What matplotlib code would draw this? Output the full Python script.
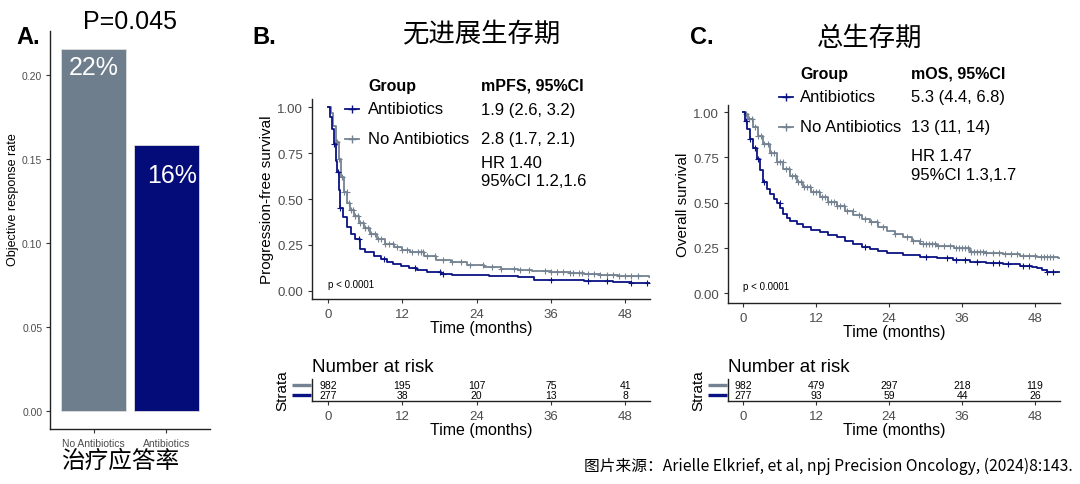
import numpy as np
import matplotlib
matplotlib.use("Agg")
import matplotlib.pyplot as plt
from matplotlib.lines import Line2D

plt.rcParams['font.family'] = ['Liberation Sans', 'Noto Sans CJK SC', 'DejaVu Sans']

NAVY = '#0a1283'
GREY = '#748291'
BAR_GREY = '#6f7e8d'
BAR_NAVY = '#030c78'
TICK_GREY = '#4d4d4d'

# ---- panel A data
orr_groups = ['No Antibiotics', 'Antibiotics']
orr_values = [0.2155, 0.158]
orr_labels = ['22%', '16%']

# ---- PFS curves
pfs_abx_t = [0, 0.3, 0.6, 0.9, 1.2, 1.4, 1.7, 2.0, 2.4, 3.0, 3.7, 4.3, 5.2, 6.0, 7.4, 8.5,
             9.5, 10.5, 11.7, 13.0, 14.4, 16.0, 18.2, 20.0, 22.5, 26.0, 30.6, 33.3, 37.0,
             41.4, 46.0, 49.0, 51.6, 52.0]
pfs_abx_s = [1.0, 0.95, 0.88, 0.80, 0.71, 0.65, 0.55, 0.45, 0.40, 0.35, 0.31, 0.28, 0.23,
             0.21, 0.19, 0.175, 0.155, 0.145, 0.136, 0.125, 0.115, 0.105, 0.09, 0.087, 0.085,
             0.08, 0.073, 0.06, 0.058, 0.055, 0.05, 0.045, 0.042, 0.042]
pfs_noabx_t = [0, 0.4, 0.8, 1.2, 1.7, 2.1, 2.5, 3.1, 3.6, 4.2, 5.0, 5.8, 6.8, 7.9, 9.2, 10.6,
               12.0, 13.3, 15.5, 17.5, 19.8, 22.5, 25.2, 28.0, 30.6, 33.0, 36.0, 39.0, 41.4,
               44.0, 46.8, 49.5, 51.9, 52.0]
pfs_noabx_s = [1.0, 0.97, 0.90, 0.81, 0.72, 0.62, 0.54, 0.48, 0.44, 0.41, 0.37, 0.34, 0.31,
               0.28, 0.255, 0.236, 0.22, 0.21, 0.187, 0.17, 0.155, 0.14, 0.127, 0.12, 0.115,
               0.108, 0.10, 0.095, 0.09, 0.086, 0.082, 0.078, 0.073, 0.073]
pfs_abx_cens = [1.0, 1.6, 2.0, 5.0, 9.0, 14.0, 18.0, 18.5, 36.0, 42.0, 45.0, 49.0, 51.5]
pfs_noabx_cens = [1.2, 1.5, 1.8, 2.2, 2.6, 3.0, 3.3, 3.7, 4.0, 4.4, 4.8, 5.2, 5.6, 6.0, 6.5,
                  7.0, 7.5, 8.0, 8.6, 9.2, 9.8, 10.5, 11.2, 12.0, 12.8, 13.6, 14.5, 15.0,
                  15.4, 16.0, 17.2, 18.5, 20.0, 21.5, 23.0, 25.0, 26.5, 28.0, 30.0, 31.0,
                  32.5, 35.0, 36.0, 37.0, 38.0, 39.0, 39.5, 40.5, 41.0, 42.0, 43.0, 44.0,
                  45.0, 46.0, 47.0, 48.0, 49.0, 50.0]

# ---- OS curves
os_abx_t = [0, 0.27, 0.6, 1.1, 1.6, 2.2, 2.8, 3.3, 3.9, 4.4, 5.0, 5.5, 6.1, 6.6, 7.2, 7.7,
            8.8, 9.9, 11.2, 12.6, 14.0, 15.4, 16.8, 18.1, 19.5, 20.8, 22.2, 23.6, 26.3, 29.0,
            31.8, 34.5, 37.3, 40.0, 42.8, 45.5, 47.5, 48.3, 49.2, 49.9, 52.0]
os_abx_s = [1.0, 0.954, 0.91, 0.853, 0.80, 0.742, 0.68, 0.613, 0.575, 0.549, 0.52, 0.50,
            0.47, 0.438, 0.415, 0.40, 0.38, 0.365, 0.35, 0.337, 0.323, 0.31, 0.29, 0.273,
            0.258, 0.245, 0.232, 0.223, 0.212, 0.202, 0.193, 0.184, 0.175, 0.168, 0.162,
            0.153, 0.145, 0.138, 0.13, 0.12, 0.12]
os_noabx_t = [0, 0.27, 0.8, 1.6, 2.4, 3.3, 4.4, 5.5, 6.6, 7.7, 8.8, 9.9, 11.2, 12.6, 14.0,
              15.4, 16.8, 18.1, 19.5, 20.8, 22.2, 23.6, 25.0, 26.3, 27.7, 29.1, 31.8, 34.6,
              37.3, 40.0, 42.8, 45.5, 48.3, 51.8, 52.0]
os_noabx_s = [1.0, 0.99, 0.96, 0.917, 0.87, 0.825, 0.775, 0.724, 0.685, 0.65, 0.617, 0.586,
              0.557, 0.53, 0.505, 0.484, 0.457, 0.43, 0.41, 0.392, 0.368, 0.346, 0.328, 0.31,
              0.29, 0.273, 0.26, 0.249, 0.23, 0.222, 0.217, 0.207, 0.199, 0.193, 0.193]
os_abx_cens = [0.5, 1.2, 2.0, 2.5, 3.5, 6.0, 20.0, 30.0, 33.5, 35.0, 36.5, 38.5, 41.0, 42.0,
               43.5, 46.0, 47.0, 50.0, 51.0]
os_noabx_cens = [0.4, 1.0, 1.5, 2.0, 2.5, 3.0, 3.5, 4.0, 4.5, 5.0, 5.5, 6.0, 6.5, 7.0, 7.5,
                 8.0, 8.5, 9.0, 9.5, 10.0, 10.5, 11.0, 11.5, 12.0, 12.5, 13.0, 13.5, 14.0,
                 14.5, 15.0, 15.5, 16.0, 16.5, 17.0, 18.0, 19.0, 20.0, 21.0, 22.0, 23.0, 25.0,
                 27.0, 28.0, 29.0, 29.5, 30.0, 30.5, 31.0, 31.5, 32.0, 33.0, 34.0, 35.0, 35.5,
                 36.0, 36.5, 37.0, 37.5, 38.0, 38.5, 39.0, 39.5, 40.0, 41.0, 42.0, 43.0, 44.0,
                 45.0, 46.0, 47.0, 48.0, 49.0, 49.5, 50.0, 50.5, 51.0]

# ---- number at risk
risk_times = [0, 12, 24, 36, 48]
pfs_risk_noabx = [982, 195, 107, 75, 41]
pfs_risk_abx = [277, 38, 20, 13, 8]
os_risk_noabx = [982, 479, 297, 218, 119]
os_risk_abx = [277, 93, 59, 44, 26]

W, H = 1080, 485
fig = plt.figure(figsize=(W / 100, H / 100), dpi=100)


def px(x, y):
    return x / W, 1 - y / H


def ftext(x, y, s, **kw):
    fig.text(*px(x, y), s, **kw)


def step_at(t, s, x):
    idx = np.searchsorted(np.asarray(t), x, side='right') - 1
    return np.asarray(s)[idx]


def axes_px(l, t, r, b):
    return fig.add_axes([l / W, 1 - b / H, (r - l) / W, (b - t) / H])


def style_axes(ax):
    for sp in ['top', 'right']:
        ax.spines[sp].set_visible(False)
    for sp in ['left', 'bottom']:
        ax.spines[sp].set_linewidth(1.0)
        ax.spines[sp].set_color('#222222')
    ax.tick_params(colors='#333333', labelcolor=TICK_GREY, length=3, width=0.8)


# ================= Panel A
axA = axes_px(50, 32, 210, 430)
style_axes(axA)
xs = np.arange(len(orr_groups))
axA.bar(xs, orr_values, width=0.9, color=[BAR_GREY, BAR_NAVY], edgecolor='#dddddd',
        linewidth=0.6)
label_offsets = [-13, -21]
for x, v, lab, off in zip(xs, orr_values, orr_labels, label_offsets):
    axA.annotate(lab, (x + 0.08 * x, v), xytext=(0, off), textcoords='offset points',
                 ha='center', va='center', color='white', fontsize=18)
axA.set_xlim(-0.6, 1.6)
axA.set_ylim(-0.0107, 0.226)
axA.set_yticks([0, 0.05, 0.10, 0.15, 0.20])
axA.set_yticklabels(['0.00', '0.05', '0.10', '0.15', '0.20'], fontsize=7.5)
axA.tick_params(axis='y', pad=2.5)
axA.set_xticks(xs)
axA.set_xticklabels(orr_groups, fontsize=7.5)
axA.set_ylabel('Objective response rate', fontsize=9, va='center')
axA.yaxis.set_label_coords((13 - 50) / 160, 0.58)
ftext(130, 22, 'P=0.045', fontsize=18, ha='center', va='center')
ftext(16, 38, 'A.', fontsize=17, fontweight='bold', ha='left', va='center')
ftext(120, 462, '治疗应答率', fontsize=17, ha='center', va='center')


# ================= KM panels
def km_panel(box, risk_box, curves, ylab, xlim, ylim, risk_rows):
    ax = axes_px(*box)
    style_axes(ax)
    for t, s, cens, col in curves:
        ax.step(t, s, where='post', color=col, lw=1.3)
        ax.plot(cens, step_at(t, s, cens), '+', color=col, ms=4, mew=0.8, ls='none')
    ax.set_xlim(*xlim)
    ax.set_ylim(*ylim)
    ax.set_xticks(risk_times)
    ax.set_yticks([0, 0.25, 0.5, 0.75, 1.0])
    ax.set_yticklabels(['0.00', '0.25', '0.50', '0.75', '1.00'], fontsize=9.5)
    ax.tick_params(axis='x', labelsize=9.5)
    ax.set_xlabel('Time (months)', fontsize=11.5, labelpad=0)
    ax.set_ylabel(ylab, fontsize=11, labelpad=2)
    ax.text(0, 0.01, 'p < 0.0001', fontsize=7, ha='left', va='bottom')

    rk = axes_px(*risk_box)
    style_axes(rk)
    rk.set_xlim(*xlim)
    rk.set_ylim(-0.6, 1.6)
    rk.set_yticks([])
    rk.set_xticks(risk_times)
    rk.tick_params(axis='x', labelsize=9.5)
    for row, (vals, col) in enumerate(risk_rows):
        for x, v in zip(risk_times, vals):
            rk.text(x, row, str(v), fontsize=7.5, ha='center', va='center')
        rk.plot([-0.06, -0.002], [row, row], color=col, lw=2.4, transform=rk.get_yaxis_transform(),
                clip_on=False, solid_capstyle='butt')
    rk.set_xlabel('Time (months)', fontsize=11.5, labelpad=0)
    rk.set_ylabel('Strata', fontsize=11, labelpad=16)
    rk.set_title('Number at risk', fontsize=13.5, loc='left', pad=6)
    return ax


km_panel((312, 100, 650, 300), (312, 380, 650, 402),
         [(pfs_noabx_t, pfs_noabx_s, pfs_noabx_cens, GREY),
          (pfs_abx_t, pfs_abx_s, pfs_abx_cens, NAVY)],
         'Progression-free survival', (-2.6, 52), (-0.045, 1.046),
         [(pfs_risk_abx, NAVY), (pfs_risk_noabx, GREY)])

km_panel((728, 106, 1060, 304), (728, 380, 1060, 402),
         [(os_noabx_t, os_noabx_s, os_noabx_cens, GREY),
          (os_abx_t, os_abx_s, os_abx_cens, NAVY)],
         'Overall survival', (-2.5, 52.1), (-0.054, 1.04),
         [(os_risk_abx, NAVY), (os_risk_noabx, GREY)])


def legend_block(x_key, x_grp, x_val, y_head, y1, y2, y_hr, head, vals, hr):
    ftext(x_grp, y_head, 'Group', fontsize=11.5, fontweight='bold', va='center')
    ftext(x_val, y_head, head, fontsize=11.5, fontweight='bold', va='center')
    for y, name, v, col in [(y1, 'Antibiotics', vals[0], NAVY), (y2, 'No Antibiotics', vals[1], GREY)]:
        x0, yy = px(x_key - 7, y)
        x1, _ = px(x_key + 7, y)
        fig.add_artist(Line2D([x0, x1], [yy, yy], color=col, lw=1.3))
        fig.add_artist(Line2D([(x0 + x1) / 2], [yy], marker='+', color=col, ms=6, mew=1.0))
        ftext(x_grp, y, name, fontsize=12, va='center')
        ftext(x_val, y, v, fontsize=12, va='center')
    for k, line in enumerate(hr):
        ftext(x_val, y_hr + 18 * k, line, fontsize=12, va='center')


legend_block(352, 368, 481, 86, 110, 140, 164, 'mPFS, 95%CI',
             ['1.9 (2.6, 3.2)', '2.8 (1.7, 2.1)'], ['HR 1.40', '95%CI 1.2,1.6'])
legend_block(786, 800, 911, 74, 98, 128, 157, 'mOS, 95%CI',
             ['5.3 (4.4, 6.8)', '13 (11, 14)'], ['HR 1.47', '95%CI 1.3,1.7'])

ftext(482, 35, '无进展生存期', fontsize=19, ha='center', va='center')
ftext(252, 38, 'B.', fontsize=17, fontweight='bold', va='center')
ftext(870, 38, '总生存期', fontsize=19, ha='center', va='center')
ftext(690, 38, 'C.', fontsize=17, fontweight='bold', va='center')

ftext(1073, 466, '图片来源：Arielle Elkrief, et al, npj Precision Oncology, (2024)8:143.',
      fontsize=11.3, ha='right', va='center', family=['Noto Sans CJK SC', 'DejaVu Sans'])

fig.savefig('out.png', dpi=100)
